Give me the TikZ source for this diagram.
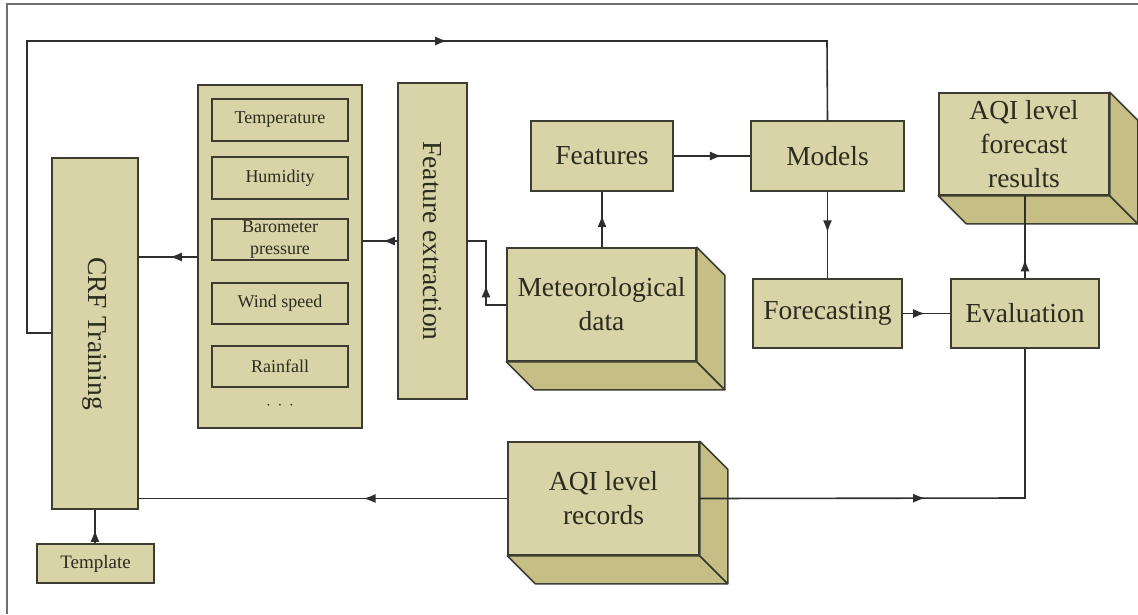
\documentclass[tikz,border=0pt]{standalone}
\usepackage{fontspec}
\setmainfont{Liberation Serif}
\usetikzlibrary{arrows.meta,decorations.markings,calc}
\definecolor{khaki}{HTML}{D8D4A8}
\definecolor{khakidark}{HTML}{C5BF85}
\definecolor{edge}{HTML}{3C3C30}
\definecolor{ink}{HTML}{2B2B1E}
\definecolor{wire}{HTML}{2E2E2E}
\definecolor{framec}{HTML}{707070}
\tikzset{
  box/.style={draw=edge, fill=khaki, line width=1.5pt, inner sep=0pt, text=ink},
  big/.style={font=\fontsize{27.5}{34}\selectfont, align=center},
  small/.style={font=\fontsize{18}{22}\selectfont, align=center},
  face/.style={draw=edge, fill=khakidark, line width=1.5pt, line join=round},
  conn/.style={draw=wire, line width=1.6pt},
  midarrow/.style={postaction={decorate}, decoration={markings,
     mark=at position #1 with {\arrow{Latex[length=12pt,width=9pt]}}}},
}
\begin{document}
\begin{tikzpicture}[x=1pt,y=-1pt]
\useasboundingbox (0,0) rectangle (1138,614);
% frame
\draw[framec, line width=1.5pt] (7,614) -- (7,4) -- (1138,4);

% CRF training
\node[box, minimum width=86, minimum height=351] (crf) at (95,333.5) {};
\node[rotate=-90, big, text=ink] (crflabel) at (crf) {CRF Training};

% feature group
\node[box, minimum width=164, minimum height=343] (grp) at (280,256.5) {};
\node[box, small, minimum width=136, minimum height=42] (temp) at (280,120) {Temperature};
\node[box, small, minimum width=136, minimum height=42] (hum) at (280,178) {Humidity};
\node[box, small, minimum width=136, minimum height=41] (baro) at (280,239.5) {Barometer\\pressure};
\node[box, small, minimum width=136, minimum height=41] (wind) at (280,303.5) {Wind speed};
\node[box, small, minimum width=136, minimum height=41] (rain) at (280,366.5) {Rainfall};
\node[small, text=ink] (dots) at (280,406) {$\cdot\,\cdot\,\cdot$};

% feature extraction
\node[box, minimum width=69, minimum height=316] (fe) at (432.5,241) {};
\node[rotate=-90, big, text=ink] (felabel) at (fe) {Feature extraction};

% meteorological data (3D)
\node[box, big, minimum width=189, minimum height=113] (met) at (601.5,304.5) {Meteorological\\data};
\draw[face] (met.south west) -- ++(28,28) -- ($(met.south east)+(28,28)$) -- (met.south east) -- cycle;
\draw[face] (met.north east) -- ++(28,28) -- ($(met.south east)+(28,28)$) -- (met.south east) -- cycle;

% features, models, forecasting, evaluation
\node[box, big, minimum width=142, minimum height=70] (feat) at (602,156) {Features};
\node[box, big, minimum width=153, minimum height=70] (models) at (827.5,156) {Models};
\node[box, big, minimum width=149, minimum height=69] (fore) at (827.5,313.5) {Forecasting};
\node[box, big, minimum width=148, minimum height=69] (eval) at (1025,313.5) {Evaluation};

% AQI forecast results (3D)
\node[box, big, minimum width=170, minimum height=102] (aqif) at (1024,144) {AQI level\\forecast\\results};
\draw[face] (aqif.south west) -- ++(28,28) -- ($(aqif.south east)+(28,28)$) -- (aqif.south east) -- cycle;
\draw[face] (aqif.north east) -- ++(28,28) -- ($(aqif.south east)+(28,28)$) -- (aqif.south east) -- cycle;

% AQI level records (3D)
\node[box, big, minimum width=191, minimum height=113] (aqir) at (603.5,498.5) {AQI level\\records};
\draw[face] (aqir.south west) -- ++(28,28) -- ($(aqir.south east)+(28,28)$) -- (aqir.south east) -- cycle;
\draw[face] (aqir.north east) -- ++(28,28) -- ($(aqir.south east)+(28,28)$) -- (aqir.south east) -- cycle;

% template
\node[box, font=\fontsize{19}{22}\selectfont, minimum width=117, minimum height=39] (tmpl) at (95.5,563.5) {Template};

% connectors
\coordinate (c1) at (486,305);
\coordinate (c2) at (486,241);
\coordinate (tl) at (27,41);
\coordinate (tr) at (827,41);
\coordinate (bl) at (27,333);
\coordinate (br) at (1025,498);

\draw[conn, midarrow=0.47] (grp.west |- 0,257) -- (crf.east |- 0,257);
\draw[conn, midarrow=0.42] (fe.west |- c2) -- (grp.east |- c2);
\draw[conn, midarrow=0.39] (met.west |- c1) -- (c1) -- (c2) -- (fe.east |- c2);
\draw[conn, midarrow=0.58] (met.north -| feat.south) -- (feat.south);
\draw[conn, midarrow=0.63] (feat.east) -- (models.west);
\draw[conn, midarrow=0.47] (models.south) -- (fore.north);
\draw[conn, midarrow=0.47] (fore.east) -- (eval.west);
\draw[conn, midarrow=0.23] (eval.north) -- (eval.north |- aqif.south);
\draw[conn, midarrow=0.616] (crf.west |- bl) -- (bl) -- (tl) -- (tr) -- (models.north);
\draw[conn, midarrow=0.39] (aqir.west) -- (crf.east |- aqir.west);
\draw[conn, midarrow=0.475] (aqir.east) -- (br) -- (eval.south);
\draw[conn, midarrow=0.4] (tmpl.north -| crf.south) -- (crf.south);
\end{tikzpicture}
\end{document}
